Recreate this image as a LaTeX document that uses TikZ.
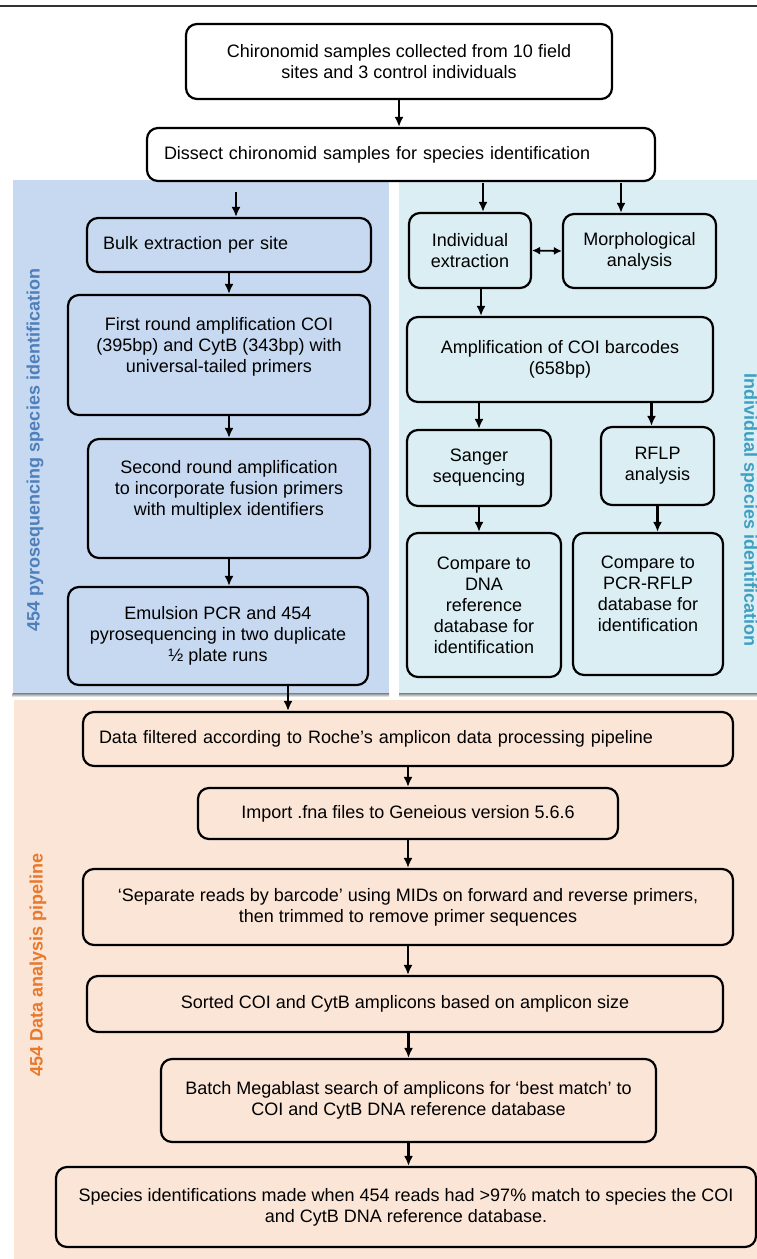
\documentclass[tikz,border=0pt]{standalone}
\usepackage{fontspec}
\setmainfont{Liberation Sans}
\usetikzlibrary{arrows.meta}

\definecolor{pyroblue}{HTML}{C6D9F1}
\definecolor{indivblue}{HTML}{DAEEF3}
\definecolor{peach}{HTML}{FBE5D6}
\definecolor{shade}{HTML}{D4D4D4}
\definecolor{pyrotext}{HTML}{4F7FBA}
\definecolor{indivtext}{HTML}{3F9FC2}
\definecolor{pipetext}{HTML}{E8782A}

\begin{document}
\begin{tikzpicture}[x=1pt,y=-1pt,
        stepbox/.style={draw,rounded corners=11pt,line width=2.2pt,inner sep=0pt,
            align=center,font=\fontsize{18}{21}\selectfont},
        leftbox/.style={stepbox,align=left},
        flow/.style={-{Latex[length=10pt,width=9pt]},line width=2.6pt},
        sidelabel/.style={font=\fontsize{18}{21}\selectfont\bfseries}]

            \useasboundingbox (0,0) rectangle (757,1259);

            % panels
            \draw[line width=1.6pt,black!80] (0,6) -- (757,6);
            \fill[pyroblue] (12.7,180) rectangle (389,693);
            \fill[shade] (12.7,693) rectangle (389,697);
            \fill[indivblue] (399,180) rectangle (757,693);
            \fill[shade] (399,693) rectangle (757,697);
            \fill[peach] (13.5,700) rectangle (757,1259);

            \node[sidelabel,text=pyrotext,rotate=90] (pyrolabel) at (35,450) {454 pyrosequencing species identification};
            \node[sidelabel,text=indivtext,rotate=-90] (indivlabel) at (749,510) {Individual species identification};
            \node[sidelabel,text=pipetext,rotate=90] (pipelabel) at (38,965) {454 Data analysis pipeline};

            % top
            \node[stepbox,fill=white,minimum width=426pt,minimum height=75pt] (chiro) at (399,61.5)
                {Chironomid samples collected from 10 field\\sites and 3 control individuals};
            \node[leftbox,fill=white,minimum width=508pt,minimum height=53pt,text width=474pt] (dissect) at (401,154.5)
                {Dissect chironomid samples for species identification};
            \coordinate (s1) at (236,192);
            \coordinate (s2) at (483,183);
            \coordinate (s3) at (621,183);

            % pyrosequencing
            \node[leftbox,minimum width=284pt,minimum height=54pt,text width=252pt] (bulk) at (229,245)
                {Bulk extraction per site};
            \node[stepbox,minimum width=302pt,minimum height=120pt] (first) at (219,355)
                {First round amplification COI\\(395bp) and CytB (343bp) with\\universal-tailed primers\\\mbox{}};
            \node[stepbox,minimum width=282pt,minimum height=119pt] (second) at (229,498.5)
                {Second round amplification\\to incorporate fusion primers\\with multiplex identifiers\\\mbox{}};
            \node[stepbox,minimum width=300pt,minimum height=98pt] (emulsion) at (218,636)
                {Emulsion PCR and 454\\pyrosequencing in two duplicate\\½ plate runs};

            % individual
            \node[stepbox,minimum width=122pt,minimum height=75pt] (indext) at (470,250.5) {Individual\\extraction};
            \node[stepbox,minimum width=153pt,minimum height=74pt] (morph) at (639.5,251) {Morphological\\analysis};
            \node[stepbox,minimum width=306pt,minimum height=85pt] (amplif) at (560,359.5)
                {Amplification of COI barcodes\\(658bp)};
            \node[stepbox,minimum width=144pt,minimum height=76pt] (sanger) at (479,468) {Sanger\\sequencing};
            \node[stepbox,minimum width=113pt,minimum height=78pt] (rflp) at (657.5,466) {RFLP\\analysis};
            \node[stepbox,minimum width=154pt,minimum height=144pt] (cmpdna) at (484,605)
                {Compare to\\DNA\\reference\\database for\\identification};
            \node[stepbox,minimum width=150pt,minimum height=142pt] (cmprflp) at (648,604)
                {Compare to\\PCR-RFLP\\database for\\identification\\\mbox{}};

            % data analysis
            \node[leftbox,minimum width=650pt,minimum height=54pt,text width=618pt] (filtered) at (408,739)
                {Data filtered according to Roche’s amplicon data processing pipeline};
            \node[stepbox,minimum width=420pt,minimum height=51pt] (importfna) at (408,813.5)
                {Import .fna files to Geneious version 5.6.6};
            \node[stepbox,minimum width=650pt,minimum height=76pt] (separate) at (408,907)
                {‘Separate reads by barcode’ using MIDs on forward and reverse primers,\\then trimmed to remove primer sequences};
            \node[stepbox,minimum width=636pt,minimum height=56pt] (sorted) at (405,1004)
                {Sorted COI and CytB amplicons based on amplicon size};
            \node[stepbox,minimum width=495pt,minimum height=83pt] (megablast) at (408.5,1100.5)
                {Batch Megablast search of amplicons for ‘best match’ to\\COI and CytB DNA reference database};
            \node[stepbox,minimum width=700pt,minimum height=80pt] (speciesid) at (406,1207)
                {Species identifications made when 454 reads had >97\% match to species the COI\\and CytB DNA reference database.};

            % arrows
            \draw[flow] (chiro) -- (chiro |- dissect.north);
            \draw[flow] (s1) -- (s1 |- bulk.north);
            \draw[flow] (s2) -- (s2 |- indext.north);
            \draw[flow] (s3) -- (s3 |- morph.north);
            \draw[flow] (bulk) -- (bulk |- first.north);
            \draw[flow] (second |- first.south) -- (second.north);
            \draw[flow] (second) -- (second |- emulsion.north);
            \draw[flow] ([xshift=70pt]emulsion.south) -- ([xshift=70pt]emulsion.south |- filtered.north);
            \draw[{Latex[length=8pt,width=8pt]}-{Latex[length=8pt,width=8pt]},line width=1.8pt] (indext.east) -- (morph.west);
            \draw[flow] ([xshift=11pt]indext.south) -- ([xshift=11pt]indext.south |- amplif.north);
            \draw[flow] (sanger |- amplif.south) -- (sanger.north);
            \draw[flow] ([xshift=-6pt]rflp |- amplif.south) -- ([xshift=-6pt]rflp.north);
            \draw[flow] (sanger) -- (sanger |- cmpdna.north);
            \draw[flow] (rflp) -- (rflp |- cmprflp.north);
            \draw[flow] (importfna |- filtered.south) -- (importfna.north);
            \draw[flow] (importfna) -- (importfna |- separate.north);
            \draw[flow] (separate) -- (separate |- sorted.north);
            \draw[flow] (megablast |- sorted.south) -- (megablast.north);
            \draw[flow] (megablast) -- (megablast |- speciesid.north);
        \end{tikzpicture}
\end{document}
